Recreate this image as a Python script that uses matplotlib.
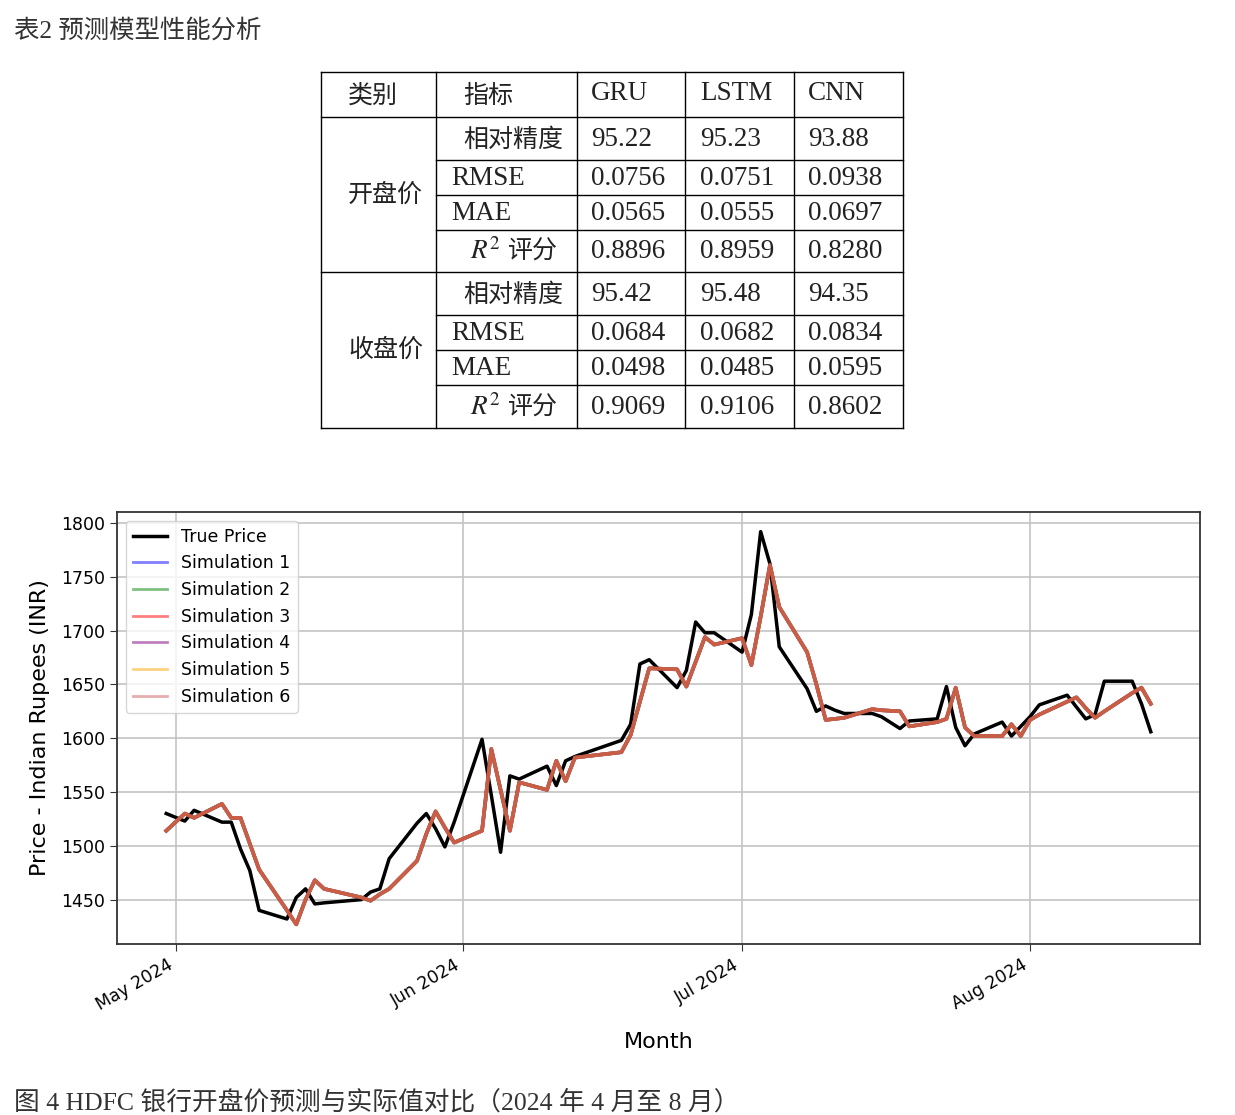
import matplotlib
matplotlib.use('Agg')
import matplotlib.pyplot as plt
import matplotlib.dates as mdates
from matplotlib.ticker import MultipleLocator
import pandas as pd

W, H = 1235, 1115
MIXED = ['Liberation Serif', 'Noto Sans CJK SC']
CJK = ['Noto Sans CJK SC']
plt.rcParams['mathtext.fontset'] = 'stix'

# --- table data ---
models = ['GRU', 'LSTM', 'CNN']
groups = ['开盘价', '收盘价']
metrics = ['相对精度', 'RMSE', 'MAE', '评分']
open_scores = [[95.22, 95.23, 93.88],
               [0.0756, 0.0751, 0.0938],
               [0.0565, 0.0555, 0.0697],
               [0.8896, 0.8959, 0.8280]]
close_scores = [[95.42, 95.48, 94.35],
                [0.0684, 0.0682, 0.0834],
                [0.0498, 0.0485, 0.0595],
                [0.9069, 0.9106, 0.8602]]

# --- price data (HDFC open, INR) ---
dates = [
    '2024-04-30', '2024-05-02', '2024-05-03', '2024-05-06', '2024-05-07', '2024-05-08',
    '2024-05-09', '2024-05-10', '2024-05-13', '2024-05-14', '2024-05-15', '2024-05-16',
    '2024-05-17', '2024-05-21', '2024-05-22', '2024-05-23', '2024-05-24', '2024-05-27',
    '2024-05-28', '2024-05-29', '2024-05-30', '2024-05-31', '2024-06-03', '2024-06-04',
    '2024-06-05', '2024-06-06', '2024-06-07', '2024-06-10', '2024-06-11', '2024-06-12',
    '2024-06-13', '2024-06-14', '2024-06-18', '2024-06-19', '2024-06-20', '2024-06-21',
    '2024-06-24', '2024-06-25', '2024-06-26', '2024-06-27', '2024-06-28', '2024-07-01',
    '2024-07-02', '2024-07-03', '2024-07-04', '2024-07-05', '2024-07-08', '2024-07-09',
    '2024-07-10', '2024-07-11', '2024-07-12', '2024-07-15', '2024-07-16', '2024-07-18',
    '2024-07-19', '2024-07-22', '2024-07-23', '2024-07-24', '2024-07-25', '2024-07-26',
    '2024-07-29', '2024-07-30', '2024-07-31', '2024-08-01', '2024-08-02', '2024-08-05',
    '2024-08-06', '2024-08-07', '2024-08-08', '2024-08-09', '2024-08-12', '2024-08-13',
    '2024-08-14']
true_price = [
    1530, 1523, 1533, 1522, 1522, 1497, 1477, 1440, 1432, 1452, 1460, 1446,
    1447, 1450, 1457, 1460, 1488, 1521, 1530, 1516, 1499, 1522, 1599, 1547,
    1494, 1565, 1562, 1574, 1556, 1579, 1583, 1586, 1598, 1613, 1669, 1673,
    1647, 1663, 1708, 1698, 1698, 1680, 1715, 1792, 1762, 1685, 1646, 1625,
    1630, 1626, 1623, 1623, 1620, 1609, 1616, 1618, 1648, 1610, 1593, 1604,
    1615, 1602, 1611, 1620, 1631, 1640, 1629, 1618, 1622, 1653, 1653, 1632,
    1606]
sim_price = [
    1514, 1530, 1526, 1539, 1526, 1526, 1502, 1478, 1440, 1427, 1450, 1468,
    1460, 1452, 1449, 1455, 1460, 1486, 1511, 1532, 1517, 1503, 1514, 1590,
    1552, 1514, 1559, 1552, 1579, 1560, 1582, 1583, 1587, 1603, 1634, 1665,
    1664, 1648, 1671, 1694, 1687, 1693, 1668, 1713, 1761, 1722, 1680, 1650,
    1617, 1618, 1619, 1627, 1626, 1625, 1611, 1615, 1618, 1647, 1610, 1602,
    1602, 1613, 1602, 1617, 1622, 1634, 1638, 1628, 1619, 1625, 1642, 1647,
    1632]
sim_colors = ['blue', 'green', 'red', 'purple', 'orange', 'indianred']


def draw_table(ax):
    col_x = [321, 436, 577, 685, 794, 903]
    row_y = [72, 117, 160, 195, 230, 272, 315, 350, 385, 428]
    lw = 1.0
    for x in col_x:
        ax.plot([x, x], [row_y[0], row_y[-1]], color='black', lw=lw)
    for i, y in enumerate(row_y):
        x0 = col_x[0] if i in (0, 1, 5, 9) else col_x[1]
        ax.plot([x0, col_x[-1]], [y, y], color='black', lw=lw)

    col = '#222222'
    cjk = dict(fontsize=18, family=CJK, color=col, va='center')
    lat = dict(fontsize=19.5, family=MIXED, color=col, va='center')
    hy = (row_y[0] + row_y[1]) / 2 + 1
    ax.text(348, hy, '类别', **cjk)
    ax.text(463, hy, '指标', **cjk)
    for x, m in zip([591, 700, 808], models):
        ax.text(x, hy - 2, m, **lat)

    for g, (name, scores) in enumerate(zip(groups, [open_scores, close_scores])):
        top = 1 + 4 * g
        gy = (row_y[top] + row_y[top + 4]) / 2
        ax.text(348, gy, name, **cjk)
        for r in range(4):
            y = (row_y[top + r] + row_y[top + r + 1]) / 2 + 1
            if r == 0:
                ax.text(463, y, metrics[r], **cjk)
            elif r == 3:
                ax.text(470, y, '$R^2$', **lat)
                ax.text(508, y, metrics[r], **cjk)
            else:
                ax.text(451, y, metrics[r], **lat)
            for x, v in zip([591, 700, 808], scores[r]):
                txt = f'{v:.2f}' if r == 0 else f'{v:.4f}'
                ax.text(x, y, txt, **lat)


def draw_chart(fig):
    ax = fig.add_axes([117 / W, 1 - 944 / H, (1200 - 117) / W, (944 - 512) / H])
    x = pd.to_datetime(dates)
    ax.plot(x, true_price, color='black', lw=2.5, label='True Price', zorder=3)
    for i, c in enumerate(sim_colors):
        ax.plot(x, sim_price, color=c, lw=2.6, alpha=0.5, label=f'Simulation {i + 1}', zorder=4)

    ax.xaxis.set_major_locator(mdates.MonthLocator())
    ax.xaxis.set_major_formatter(mdates.DateFormatter('%b %Y'))
    ax.yaxis.set_major_locator(MultipleLocator(50))
    plt.setp(ax.get_xticklabels(), rotation=30, ha='right')
    ax.tick_params(labelsize=12.5, length=5, color='#333333')
    ax.grid(True, color='#c4c4c4', lw=1.2)
    for s in ax.spines.values():
        s.set_color('#333333')
        s.set_linewidth(1.3)
    ax.set_xlabel('Month', fontsize=16, labelpad=13)
    ax.set_ylabel('Price - Indian Rupees (INR)', fontsize=16, labelpad=8)
    leg = ax.legend(loc='upper left', fontsize=12.5, framealpha=0.8)
    for h in leg.get_lines()[1:]:
        h.set_linewidth(2)
    return ax


def main():
    fig = plt.figure(figsize=(W / 100, H / 100), dpi=100)
    over = fig.add_axes([0, 0, 1, 1])
    over.set_xlim(0, W)
    over.set_ylim(H, 0)
    over.axis('off')

    over.text(14, 31, '表2 预测模型性能分析', fontsize=18.3, family=MIXED,
              color='#333333', va='center')
    draw_table(over)
    over.text(14, 1102, '图 4 HDFC 银行开盘价预测与实际值对比（2024 年 4 月至 8 月）',
              fontsize=18.5, family=MIXED, color='#333333', va='center')

    draw_chart(fig)
    fig.savefig('out.png', dpi=100)


if __name__ == '__main__':
    main()
